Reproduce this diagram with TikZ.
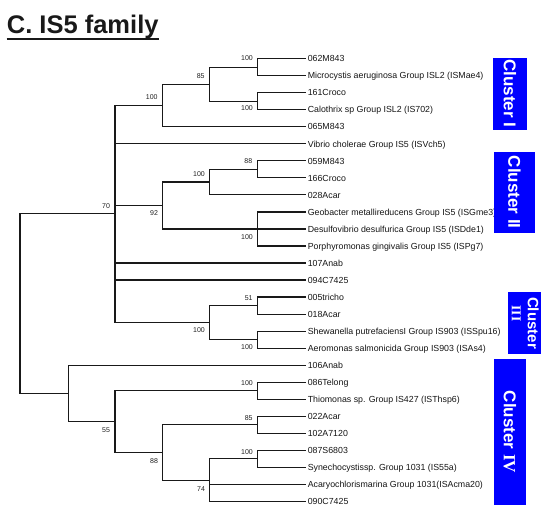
\documentclass[tikz,border=0pt]{standalone}
\usepackage{fontspec}
\setmainfont{Liberation Sans}
\newfontfamily\serifroman{Liberation Serif}
\begin{document}
\begin{tikzpicture}[x=1pt,y=-1pt,
  br/.style={line width=1.2pt, draw=black!90},
  leaf/.style={anchor=west, inner xsep=1.6pt, inner ysep=0pt, text height=6.5pt, text depth=0pt,
    font=\fontsize{8.8}{9}\selectfont, text=black!92},
  bs/.style={inner sep=0pt, font=\fontsize{7}{7}\selectfont, text=black!88},
  clbox/.style={fill=blue, draw=none, inner sep=0pt, anchor=north west},
  cltext/.style={text=white, font=\bfseries\fontsize{17}{17}\selectfont, rotate=-90, inner sep=0pt}]
\useasboundingbox (0,0) rectangle (541,517);

% title
\node[anchor=base west, inner sep=0pt, font=\bfseries\fontsize{25.5}{26}\selectfont, text=black!90] (title) at (6.7,33.3) {C. IS5 family};
\draw[line width=2.3pt, black!90] ([yshift=-5.8pt]title.base west) -- ([yshift=-5.8pt]title.base east);

% leaves
\node[leaf] (l1)  at (306,58.6)  {062M843};
\node[leaf] (l2)  at (306,75.6)  {Microcystis aeruginosa Group ISL2 (ISMae4)};
\node[leaf] (l3)  at (306,92.7)  {161Croco};
\node[leaf] (l4)  at (306,109.7) {Calothrix sp Group ISL2 (IS702)};
\node[leaf] (l5)  at (306,126.7) {065M843};
\node[leaf] (l6)  at (306,143.8) {Vibrio cholerae Group IS5 (ISVch5)};
\node[leaf] (l7)  at (306,160.8) {059M843};
\node[leaf] (l8)  at (306,177.8) {166Croco};
\node[leaf] (l9)  at (306,194.8) {028Acar};
\node[leaf] (l10) at (306,211.9) {Geobacter metallireducens Group IS5 (ISGme3)};
\node[leaf] (l11) at (306,228.9) {Desulfovibrio desulfurica Group IS5 (ISDde1)};
\node[leaf] (l12) at (306,245.9) {Porphyromonas gingivalis Group IS5 (ISPg7)};
\node[leaf] (l13) at (306,263.0) {107Anab};
\node[leaf] (l14) at (306,280.0) {094C7425};
\node[leaf] (l15) at (306,297.0) {005tricho};
\node[leaf] (l16) at (306,314.1) {018Acar};
\node[leaf] (l17) at (306,331.1) {Shewanella putrefaciensI Group IS903 (ISSpu16)};
\node[leaf] (l18) at (306,348.1) {Aeromonas salmonicida Group IS903 (ISAs4)};
\node[leaf] (l19) at (306,365.1) {106Anab};
\node[leaf] (l20) at (306,382.2) {086Telong};
\node[leaf] (l21) at (306,399.2) {Thiomonas sp. Group IS427 (ISThsp6)};
\node[leaf] (l22) at (306,416.2) {022Acar};
\node[leaf] (l23) at (306,433.3) {102A7120};
\node[leaf] (l24) at (306,450.3) {087S6803};
\node[leaf] (l25) at (306,467.3) {Synechocystissp. Group 1031 (IS55a)};
\node[leaf] (l26) at (306,484.4) {Acaryochlorismarina Group 1031(ISAcma20)};
\node[leaf] (l27) at (306,501.4) {090C7425};

% internal nodes
\coordinate (root) at (20,303.5);
\coordinate (a70)  at (115,213.7);
\coordinate (c1)   at (162.7,105.4);
\coordinate (n85)  at (209.3,84.2);
\coordinate (n100a) at (257.3,67.1);
\coordinate (n100b) at (257.3,101.2);
\coordinate (n92)  at (162.7,205.5);
\coordinate (n100c) at (209.3,182.0);
\coordinate (n88)  at (257.3,169.3);
\coordinate (n100d) at (257.3,228.9);
\coordinate (c3)   at (209.3,322.6);
\coordinate (n51)  at (257.3,305.6);
\coordinate (n100e) at (257.3,339.6);
\coordinate (nl)   at (68.3,393.3);
\coordinate (n55)  at (115,421.6);
\coordinate (n100f) at (257.3,390.7);
\coordinate (n88b) at (162.7,452.4);
\coordinate (n85b) at (257.3,424.8);
\coordinate (n74)  at (209.3,480.1);
\coordinate (n100g) at (257.3,458.8);

% branches
\draw[br] (root) |- (a70);
\draw[br] (root) |- (nl);
\draw[br] (a70) |- (c1);
\draw[br] (a70) |- (l6.west);
\draw[br] (a70) |- (n92);
\draw[br] (a70) |- (l13.west);
\draw[br] (a70) |- (l14.west);
\draw[br] (a70) |- (c3);
\draw[br] (c1) |- (n85);
\draw[br] (c1) |- (l5.west);
\draw[br] (n85) |- (n100a);
\draw[br] (n85) |- (n100b);
\draw[br] (n100a) |- (l1.west);
\draw[br] (n100a) |- (l2.west);
\draw[br] (n100b) |- (l3.west);
\draw[br] (n100b) |- (l4.west);
\draw[br] (n92) |- (n100c);
\draw[br] (n92) |- (n100d);
\draw[br] (n100c) |- (n88);
\draw[br] (n100c) |- (l9.west);
\draw[br] (n88) |- (l7.west);
\draw[br] (n88) |- (l8.west);
\draw[br] (n100d) |- (l10.west);
\draw[br] (n100d) |- (l11.west);
\draw[br] (n100d) |- (l12.west);
\draw[br] (c3) |- (n51);
\draw[br] (c3) |- (n100e);
\draw[br] (n51) |- (l15.west);
\draw[br] (n51) |- (l16.west);
\draw[br] (n100e) |- (l17.west);
\draw[br] (n100e) |- (l18.west);
\draw[br] (nl) |- (l19.west);
\draw[br] (nl) |- (n55);
\draw[br] (n55) |- (n100f);
\draw[br] (n55) |- (n88b);
\draw[br] (n100f) |- (l20.west);
\draw[br] (n100f) |- (l21.west);
\draw[br] (n88b) |- (n85b);
\draw[br] (n88b) |- (n74);
\draw[br] (n85b) |- (l22.west);
\draw[br] (n85b) |- (l23.west);
\draw[br] (n74) |- (n100g);
\draw[br] (n74) |- (l26.west);
\draw[br] (n74) |- (l27.west);
\draw[br] (n100g) |- (l24.west);
\draw[br] (n100g) |- (l25.west);

% bootstrap values
\node[bs] (b1)  at (247.0,58.5)  {100};
\node[bs] (b2)  at (247.0,108.3) {100};
\node[bs] (b3)  at (200.7,75.7)  {85};
\node[bs] (b4)  at (151.7,97.3)  {100};
\node[bs] (b5)  at (248.3,161.0) {88};
\node[bs] (b6)  at (199.0,174.0) {100};
\node[bs] (b7)  at (154.0,212.7) {92};
\node[bs] (b8)  at (247.0,237.3) {100};
\node[bs] (b9)  at (106.0,206.0) {70};
\node[bs] (b10) at (248.7,297.7) {51};
\node[bs] (b11) at (199.0,330.3) {100};
\node[bs] (b12) at (247.0,347.2) {100};
\node[bs] (b13) at (247.0,383.3) {100};
\node[bs] (b14) at (106.0,430.0) {55};
\node[bs] (b15) at (248.7,417.7) {85};
\node[bs] (b16) at (154.0,460.7) {88};
\node[bs] (b17) at (247.0,451.7) {100};
\node[bs] (b18) at (201.0,488.7) {74};

% cluster boxes
\node[clbox, minimum width=34pt, minimum height=72pt] (cb1) at (492.7,57.3) {};
\node[cltext] (ct1) at (cb1.center) {Cluster I};
\node[clbox, minimum width=41.7pt, minimum height=81.2pt] (cb2) at (493.3,151.5) {};
\node[cltext] (ct2) at (cb2.center) {Cluster II};
\node[clbox, minimum width=33.5pt, minimum height=62.5pt] (cb3) at (507.5,291.5) {};
\node[cltext, font=\bfseries\fontsize{15}{15}\selectfont] (ct3) at (533.2,323) {Cluster};
\node[cltext, font=\serifroman\bfseries\fontsize{13.5}{13.5}\selectfont] (ct3b) at (516.3,313.5) {III};
\node[clbox, minimum width=32.7pt, minimum height=146.5pt] (cb4) at (493.3,358.5) {};
\node[cltext] (ct4) at (cb4.center) {Cluster {\serifroman IV}};
\end{tikzpicture}
\end{document}
